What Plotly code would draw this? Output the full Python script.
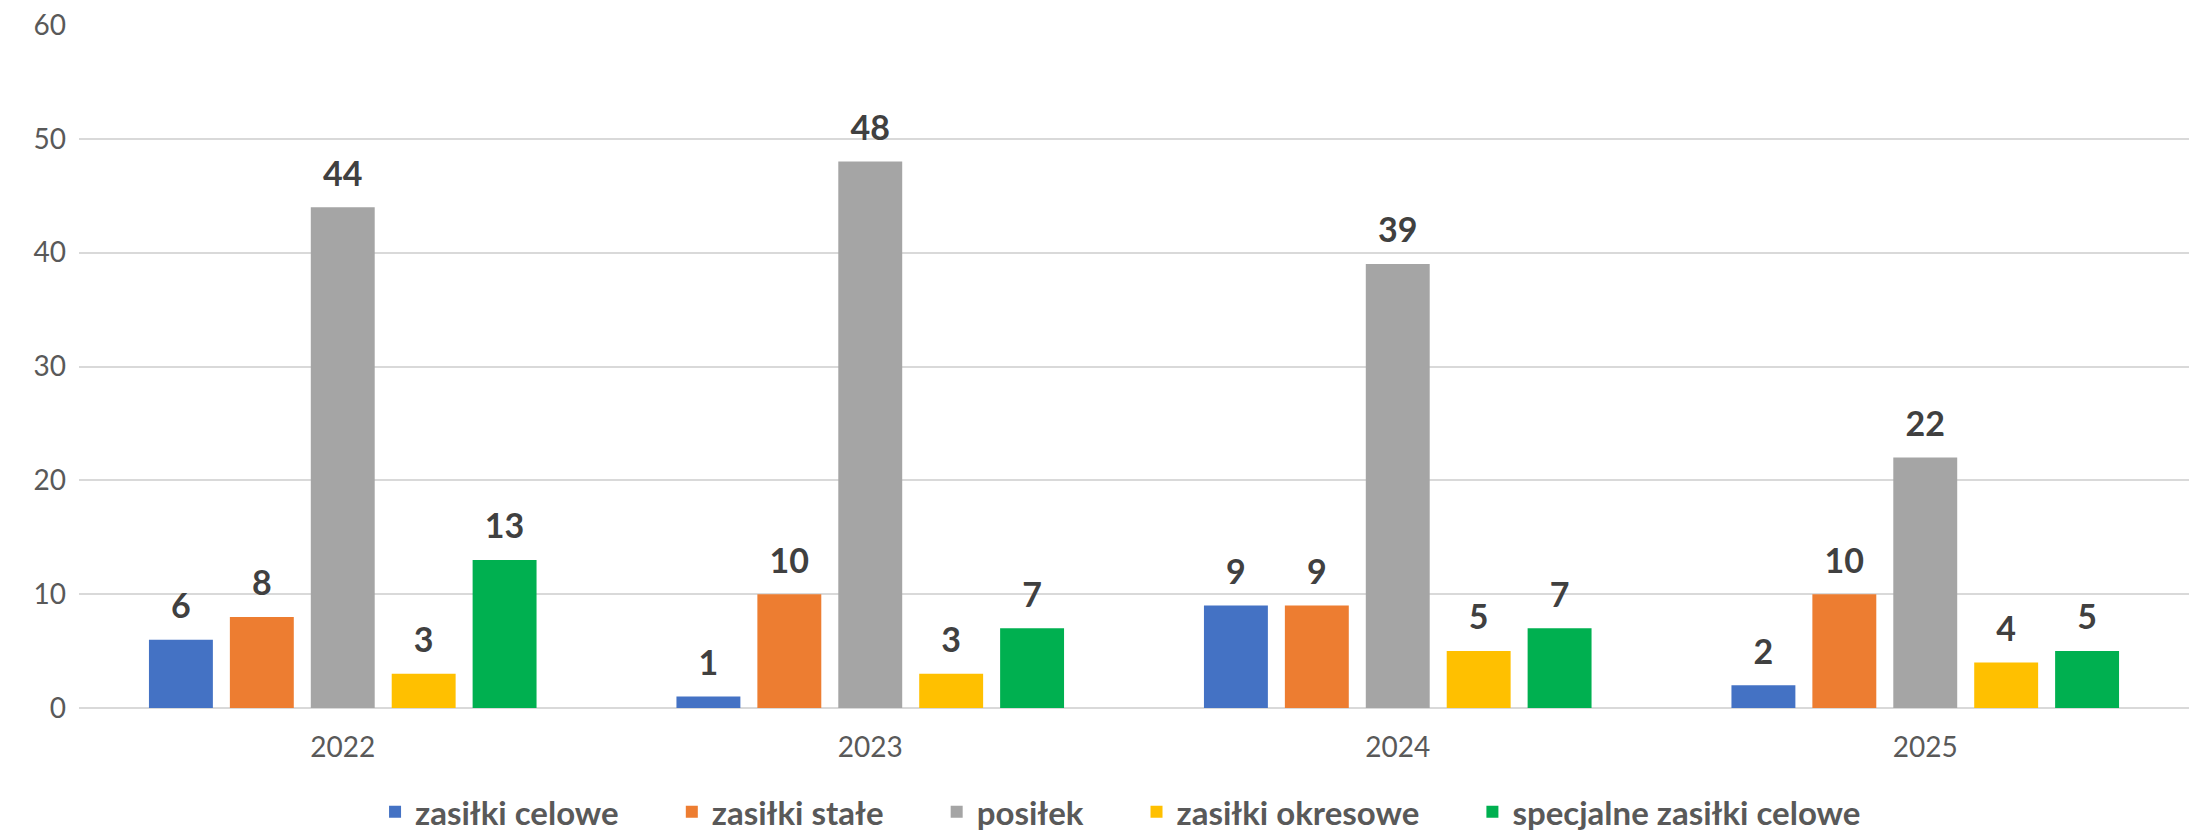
import plotly.graph_objects as go

years = ["2022", "2023", "2024", "2025"]
series_names = ["zasiłki celowe", "zasiłki stałe", "posiłek", "zasiłki okresowe", "specjalne zasiłki celowe"]
zasilki_celowe = [6, 1, 9, 2]
zasilki_stale = [8, 10, 9, 10]
posilek = [44, 48, 39, 22]
zasilki_okresowe = [3, 3, 5, 4]
specjalne_zasilki_celowe = [13, 7, 7, 5]
colors = ["#4472C4", "#ED7D31", "#A5A5A5", "#FFC000", "#00B050"]
y_ticks = [0, 10, 20, 30, 40, 50, 60]

values = [zasilki_celowe, zasilki_stale, posilek, zasilki_okresowe, specjalne_zasilki_celowe]

FONT = "Lato, Carlito, Calibri, 'Open Sans', sans-serif"
PAD = "\u00a0" * 6

fig = go.Figure()
for name, vals, col in zip(series_names, values, colors):
    fig.add_trace(go.Bar(
        x=years, y=vals, name=name + PAD,
        marker=dict(color=col, line=dict(width=0)),
        text=vals,
        texttemplate="<span style='font-size:34px'>%{text}</span><br> ",
        textposition="outside",
        textfont=dict(family=FONT, size=12, color="#404040", weight="bold"),
        cliponaxis=False,
    ))

fig.update_layout(
    width=2189, height=832,
    barmode="group",
    bargap=0.233,
    bargroupgap=0.21,
    plot_bgcolor="white",
    paper_bgcolor="white",
    margin=dict(l=79, r=0, t=25, b=124, autoexpand=False),
    font=dict(family=FONT, color="#595959"),
    showlegend=True,
    legend=dict(
        orientation="h",
        x=0.505, xanchor="center",
        y=-0.152, yanchor="middle",
        font=dict(family=FONT, size=33, color="#595959", weight="bold"),
        itemwidth=30,
        traceorder="normal",
    ),
)
fig.update_yaxes(
    range=[0, 60], tickvals=y_ticks,
    showgrid=True, gridcolor="#D9D9D9", gridwidth=1.5,
    zeroline=True, zerolinecolor="#D9D9D9", zerolinewidth=2,
    showline=False, automargin=False,
    tickfont=dict(family=FONT, size=28, color="#595959"),
    ticks="", ticklabelstandoff=12,
)
fig.update_xaxes(
    showgrid=False, showline=False, ticks="", automargin=False,
    tickfont=dict(family=FONT, size=28, color="#595959"),
    ticklabelstandoff=20,
)

fig.write_html(
    "out.html",
    config={"displayModeBar": False},
    post_script="document.body.style.margin='0';document.body.style.overflow='hidden';",
)
